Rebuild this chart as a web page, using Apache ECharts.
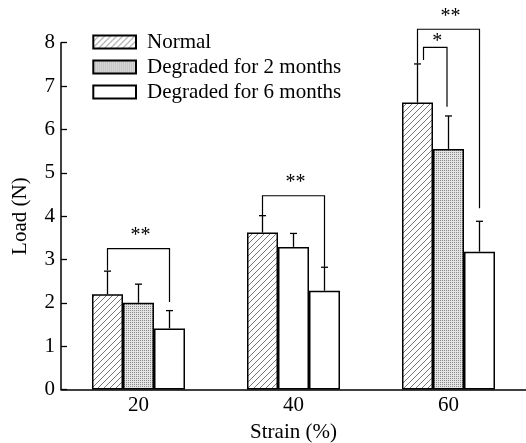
<!DOCTYPE html>
<html>
<head>
<meta charset="utf-8">
<script src="https://cdn.jsdelivr.net/npm/echarts@6/dist/echarts.min.js"></script>
<style>
  html, body { margin: 0; padding: 0; background: #fff; }
  #chart { width: 526px; height: 443px; }
</style>
</head>
<body>
<div id="chart"></div>
<script>
const strains = ['20', '40', '60'];
const seriesNames = ['Normal', 'Degraded for 2 months', 'Degraded for 6 months'];
const normalLoad = [2.2, 3.62, 6.62];
const normalErr = [2.73, 4.01, 7.51];
const deg2Load = [2.0, 3.29, 5.55];
const deg2Err = [2.43, 3.6, 6.31];
const deg6Load = [1.41, 2.28, 3.18];
const deg6Err = [1.82, 2.82, 3.88];
// [strain index, from bar, to bar, bracket level, left leg end, right leg end, label]
const brackets = [
    [0, 0, 2, 3.25, 2.75, 2.02, '**'],
    [1, 0, 2, 4.47, 4.02, 2.83, '**'],
    [2, 0, 2, 8.31, 7.52, 4.18, '**'],
    [2, 0, 1, 7.89, 7.6, 6.52, '*']
];

const FONT = 'Liberation Serif';

function hatchPattern() {
    const c = document.createElement('canvas');
    c.width = 6; c.height = 6;
    const ctx = c.getContext('2d');
    ctx.fillStyle = '#fff';
    ctx.fillRect(0, 0, 6, 6);
    ctx.strokeStyle = '#777';
    ctx.lineWidth = 1;
    ctx.beginPath();
    ctx.moveTo(-1, 7); ctx.lineTo(7, -1);
    ctx.moveTo(-4, 4); ctx.lineTo(4, -4);
    ctx.moveTo(2, 10); ctx.lineTo(10, 2);
    ctx.stroke();
    return { image: c, repeat: 'repeat' };
}

function dotPattern() {
    const c = document.createElement('canvas');
    c.width = 2; c.height = 2;
    const ctx = c.getContext('2d');
    ctx.fillStyle = '#e4e4e4';
    ctx.fillRect(0, 0, 2, 2);
    ctx.fillStyle = '#8a8a8a';
    ctx.fillRect(0, 0, 1, 1);
    return { image: c, repeat: 'repeat' };
}

const fills = [hatchPattern(), dotPattern(), '#fff'];
const loads = [normalLoad, deg2Load, deg6Load];
const errs = [normalErr, deg2Err, deg6Err];

const myChart = echarts.init(document.getElementById('chart'));

function slotX(api, idx, slot) {
    const center = api.coord([idx, 0])[0];
    const band = api.size([1, 0])[0];
    const bw = band * 0.6 / 3;
    return center + (slot - 1) * bw;
}

const barSeries = seriesNames.map((name, s) => ({
    name: name,
    type: 'bar',
    barGap: '0%',
    barCategoryGap: '40%',
    itemStyle: { color: fills[s], borderColor: '#000', borderWidth: 1.5 },
    emphasis: { disabled: true },
    data: loads[s].map((v, i) => (s === 1 && i === 1) ? { value: v, itemStyle: { color: '#fff' } } : v),
    z: 2
}));

const errData = [];
loads.forEach((arr, s) => arr.forEach((v, i) => errData.push([i, v, errs[s][i], s])));

const errorSeries = {
    type: 'custom',
    silent: true,
    z: 3,
    data: errData,
    renderItem: function (params, api) {
        const i = api.value(0), s = api.value(3);
        const x = slotX(api, i, s);
        const yTop = api.coord([i, api.value(1)])[1];
        const yErr = api.coord([i, api.value(2)])[1];
        const style = { stroke: '#000', lineWidth: 1.3 };
        return {
            type: 'group',
            children: [
                { type: 'line', shape: { x1: x, y1: yTop, x2: x, y2: yErr }, style: style },
                { type: 'line', shape: { x1: x - 3.5, y1: yErr, x2: x + 3.5, y2: yErr }, style: style }
            ]
        };
    }
};

const bracketSeries = {
    type: 'custom',
    silent: true,
    clip: false,
    z: 3,
    data: brackets.map(b => b.slice(0, 6)),
    renderItem: function (params, api) {
        const b = brackets[params.dataIndex];
        const i = b[0];
        const inner = b[2] === 1;
        const xl = slotX(api, i, b[1]) + (inner ? 6 : 0);
        const xr = slotX(api, i, b[2]) - (inner ? 1.5 : 0);
        const yb = api.coord([i, b[3]])[1];
        const yl = api.coord([i, b[4]])[1];
        const yr = api.coord([i, b[5]])[1];
        const style = { stroke: '#000', lineWidth: 1.2, fill: null };
        return {
            type: 'group',
            children: [
                { type: 'polyline', shape: { points: [[xl, yl], [xl, yb], [xr, yb], [xr, yr]] }, style: style },
                {
                    type: 'text',
                    style: {
                        text: b[6], x: (xl + xr) / 2 + 2, y: yb - (inner ? 6 : 13),
                        fill: '#000', font: '20px "' + FONT + '"',
                        align: 'center', verticalAlign: 'middle'
                    }
                }
            ]
        };
    }
};

const option = {
    animation: false,
    textStyle: { fontFamily: FONT },
    grid: { left: 61, right: 0, top: 42.7, bottom: 53.5, containLabel: false, outerBoundsMode: 'none' },
    legend: {
        orient: 'vertical',
        left: 92.3,
        top: 31.5,
        padding: 0,
        itemWidth: 42.7,
        itemHeight: 13,
        itemGap: 4,
        icon: 'rect',
        selectedMode: false,
        data: seriesNames,
        textStyle: { fontFamily: FONT, fontSize: 21, lineHeight: 20, color: '#000', padding: [0, 0, 0, 6] }
    },
    xAxis: {
        type: 'category',
        data: strains,
        name: 'Strain (%)',
        nameLocation: 'middle',
        nameGap: 32,
        nameTextStyle: { fontFamily: FONT, fontSize: 21, color: '#000' },
        axisLine: { lineStyle: { color: '#000', width: 1.5 } },
        axisTick: { show: false },
        axisLabel: { fontFamily: FONT, fontSize: 21, color: '#000', margin: 5 }
    },
    yAxis: {
        type: 'value',
        min: 0,
        max: 8,
        interval: 1,
        name: 'Load (N)',
        nameLocation: 'middle',
        nameGap: 30,
        nameTextStyle: { fontFamily: FONT, fontSize: 21, color: '#000' },
        splitLine: { show: false },
        axisLine: { show: true, lineStyle: { color: '#000', width: 1.5 } },
        axisTick: { show: true, inside: true, length: 6, lineStyle: { color: '#000', width: 1.3 } },
        axisLabel: { fontFamily: FONT, fontSize: 21, color: '#000', margin: 6 }
    },
    series: [...barSeries, errorSeries, bracketSeries]
};

myChart.setOption(option);
window.addEventListener('resize', () => myChart.resize());
</script>
</body>
</html>
